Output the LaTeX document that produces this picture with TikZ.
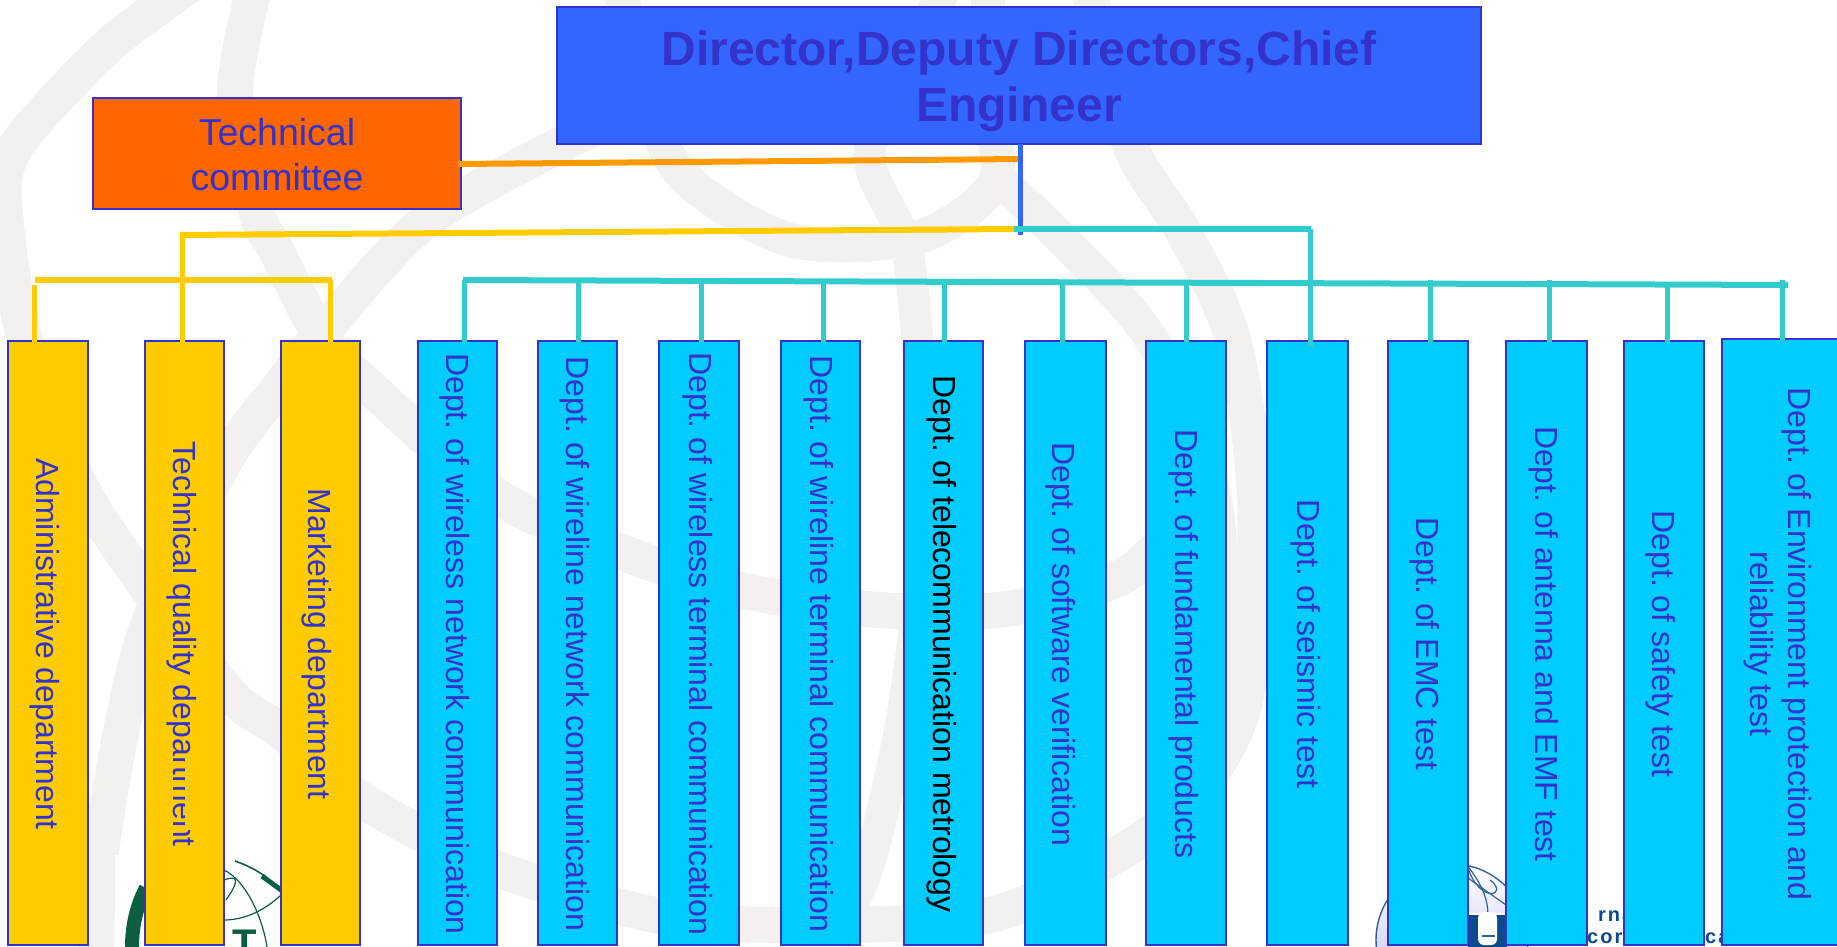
\documentclass[tikz,border=0pt]{standalone}
\usepackage{fontspec}
\setmainfont{Liberation Sans}
\newfontfamily\spacedbold[LetterSpace=10]{Liberation Sans Bold}
\definecolor{ink}{HTML}{3333CC}
\definecolor{wmark}{HTML}{F2F1EF}
\definecolor{boxyellow}{HTML}{FFCC00}
\definecolor{boxcyan}{HTML}{00CCFF}
\definecolor{boxblue}{HTML}{3366FF}
\definecolor{boxorange}{HTML}{FF6600}
\definecolor{lineorange}{HTML}{FF9900}
\definecolor{lineteal}{HTML}{33CCCC}
\definecolor{logogreen}{HTML}{0B5F3F}
\definecolor{logoblue}{HTML}{0B4A8C}
\definecolor{globeline}{HTML}{2F6398}
\tikzset{
  wm/.style={draw=wmark,line width=36pt,line cap=butt,line join=round},
  deptbox/.style={draw=ink,line width=2pt,inner sep=0pt,outer sep=0pt,minimum height=604pt},
  toptext/.style={text=ink,align=center,inner sep=0pt},
  lab/.style={text=ink,font=\fontsize{32}{38}\selectfont,rotate=-90,anchor=base,inner sep=0pt},
  labtwo/.style={text=ink,font=\fontsize{32}{38}\selectfont,rotate=-90,anchor=center,align=center,inner sep=0pt},
  buswire/.style={line width=6pt},
  dropwire/.style={line width=5pt},
}
\frenchspacing
\begin{document}
\begin{tikzpicture}[x=1pt,y=-1pt]
\path[use as bounding box] (0,0) rectangle (1837,947);
\clip (0,0) rectangle (1837,947);
\fill[white] (0,0) rectangle (1837,947);
% watermark
\draw[wm] plot[smooth] coordinates {(190,-15) (115,40) (55,100) (14,150) (4,200) (25,340) (88,500) (223,686) (281,731) (362,800) (495,868) (660,916) (800,925) (986,916) (1104,862) (1190,800) (1245,700) (1255,500) (1233,340) (1184,233) (1130,145) (1090,-5)};
\draw[wm] plot[smooth] coordinates {(255,-15) (235,93) (256,210) (276,250) (319,333) (362,380) (495,495) (616,550) (740,590) (880,610) (1006,609) (1125,575) (1200,500)};
\draw[wm] plot[smooth] coordinates {(590,130) (427,220) (322,333) (281,385) (223,464) (150,620) (122,727) (100,860) (96,960)};
\draw[wm,line width=34pt] plot[smooth] coordinates {(620,-10) (666,150) (720,205) (790,240) (860,245) (925,235) (975,205) (998,170) (988,100) (988,-10)};
\draw[wm,line width=32pt] plot[smooth] coordinates {(945,-10) (870,147) (909,260) (925,500) (905,700) (870,860) (835,940)};
\draw[wm,line width=34pt] plot[smooth] coordinates {(1000,180) (1073,250) (1155,345) (1215,500) (1225,700)};
% left logo
\fill[white] (115,855) rectangle (310,947);
\draw[logogreen,line width=14pt] (132,947) .. controls (132,925) and (137,905) .. (146,888);
\draw[logogreen,line width=1.6pt] (235,861) .. controls (255,868) and (270,878) .. (276,888);
\draw[logogreen,line width=5pt] (262,876) -- (281,890);
\draw[logogreen,line width=1.2pt] (224,870) .. controls (245,880) and (262,915) .. (267,947);
\draw[logogreen,line width=1.2pt] (224,920) .. controls (245,920) and (265,910) .. (281,895);
\draw[logogreen,line width=1.2pt] (226,900) .. controls (240,880) and (238,875) .. (224,880);
\node[inner sep=0pt,text=logogreen,font=\fontsize{40}{40}\selectfont\bfseries,anchor=base] (logoT) at (245,957) {T};
% right logo
\fill[white] (1360,850) rectangle (1700,947);
\shade[top color=white,bottom color=blue!25!white!90!gray] (1452,940) circle (76);
\draw[globeline,line width=1.4pt] (1452,940) circle (76);
\draw[globeline,line width=1.2pt] (1466,864) .. controls (1495,900) and (1490,920) .. (1480,947);
\draw[globeline,line width=1.2pt] (1468,868) .. controls (1480,905) and (1510,895) .. (1490,880);
\draw[globeline,line width=1.2pt] (1468,878) -- (1506,905);
\fill[logoblue] (1468,915) rectangle (1507,947);
\fill[white,rounded corners=6pt] (1478,912) rectangle (1497,945);
\fill[white] (1466,913) rectangle (1507,915);
\draw[globeline,line width=1.2pt] (1482,936) -- (1495,936);
\node[inner sep=0pt,text=logoblue,anchor=base west,font=\fontsize{20}{20}\selectfont\spacedbold] (itua) at (1598,921) {rna};
\node[inner sep=0pt,text=logoblue,anchor=base west,font=\fontsize{20}{20}\selectfont\spacedbold] (itub) at (1587,943) {cor};
\node[inner sep=0pt,text=logoblue,anchor=base west,font=\fontsize{20}{20}\selectfont\spacedbold] (ituc) at (1705,943) {ca};
% boxes
\node[draw=ink,line width=2pt,fill=boxblue,inner sep=0pt,outer sep=0pt,minimum width=924pt,minimum height=137pt,anchor=north west] (dir) at (557,7) {};
\node[draw=ink,line width=2pt,fill=boxorange,inner sep=0pt,outer sep=0pt,minimum width=368pt,minimum height=111pt,anchor=north west] (tc) at (93,98) {};
\foreach \n/\a/\b in {adm/8/88,tq/145/224,mkt/281/360}
  \node[deptbox,fill=boxyellow,minimum width={(\b-\a)*1pt}] (\n) at ({(\a+\b)/2},643) {};
\foreach \n/\a/\b in {wln/418/497,wrn/538/617,wlt/659/739,wrt/781/860,tel/904/983,sw/1025/1106,fun/1146/1226,sei/1267/1348,emc/1388/1468,ant/1506/1587,saf/1624/1704}
  \node[deptbox,fill=boxcyan,minimum width={(\b-\a)*1pt}] (\n) at ({(\a+\b)/2},643) {};
\node[draw=ink,line width=2pt,fill=boxcyan,inner sep=0pt,outer sep=0pt,minimum width=160pt,minimum height=606pt,anchor=north west] (env) at (1722,339) {};
% text
\node[toptext,font=\fontsize{48}{56}\selectfont\bfseries,anchor=center] (dirt) at (1019,81) {Director,Deputy Directors,Chief\\Engineer};
\node[toptext,font=\fontsize{37.5}{45}\selectfont,anchor=center] (tct) at (277,155) {Technical\\committee};
\node[lab] (l1) at (36,644) {Administrative department};
\node[lab] (l2) at (173,644) {Technical quality department};
\fill[boxyellow] (185,757) rectangle (195,830);
\node[lab] (l3) at (308,644) {Marketing department};
\node[lab] (l4) at (446,644) {Dept. of wireless network communication};
\node[lab] (l5) at (566,644) {Dept. of wireline network communication};
\node[lab] (l6) at (689,644) {Dept. of wireless terminal communication};
\node[lab] (l7) at (810,644) {Dept. of wireline terminal communication};
\node[lab,text=black] (l8) at (933,644) {Dept. of telecommunication metrology};
\node[lab] (l9) at (1052,644) {Dept. of software verification};
\node[lab] (l10) at (1175,644) {Dept. of fundamental products};
\node[lab] (l11) at (1297,644) {Dept. of seismic test};
\node[lab] (l12) at (1416,644) {Dept. of EMC test};
\node[lab] (l13) at (1535,644) {Dept. of antenna and EMF test};
\node[lab] (l14) at (1652,644) {Dept. of safety test};
\node[labtwo] (l15) at (1778,644) {Dept. of Environment protection and\\reliability test};
% connectors
\coordinate (orS) at (458,164);
\coordinate (orE) at (1023,159);
\coordinate (hub) at (1020,235);
\coordinate (ylS) at (180,235);
\coordinate (ylE) at (1016,229);
\coordinate (ylT) at (182,235);
\coordinate (ybL) at (35,280);
\coordinate (ybR) at (332,280);
\coordinate (ydA) at (34,285);
\coordinate (ydC) at (330,280);
\coordinate (tlS) at (1014,229);
\coordinate (tlE) at (1311,229);
\coordinate (tlD) at (1310,229);
\coordinate (tbS) at (463,280);
\coordinate (tbE) at (1788,285);
\draw[lineorange,buswire] (orS) -- (orE);
\draw[boxblue,line width=5pt] (dir.south -| hub) -- (hub);
\draw[boxyellow,buswire] (ylS) -- (ylE);
\draw[boxyellow,dropwire] (ylT) -- (ylT |- tq.north) -- ++(0,2);
\draw[boxyellow,buswire] (ybL) -- (ybR);
\draw[boxyellow,dropwire] (ydA) -- (ydA |- adm.north) -- ++(0,2);
\draw[boxyellow,dropwire] (ydC) -- (ydC |- mkt.north) -- ++(0,2);
\draw[lineteal,buswire] (tlS) -- (tlE);
\draw[lineteal,dropwire] (tlD) -- (tlD |- sei.north) -- ++(0,6);
\draw[lineteal,buswire] (tbS) -- (tbE);
\foreach \n/\x/\y in {wln/464/280,wrn/578/282,wlt/701.5/282,wrt/823/282,tel/944/282,sw/1062.5/282,fun/1186/282,emc/1430/280,ant/1549/280,saf/1667.5/285,env/1782/280}{
  \coordinate (t\n) at (\x,\y);
  \draw[lineteal,dropwire] (t\n) -- (t\n |- \n.north) -- ++(0,2);
}
\end{tikzpicture}
\end{document}
